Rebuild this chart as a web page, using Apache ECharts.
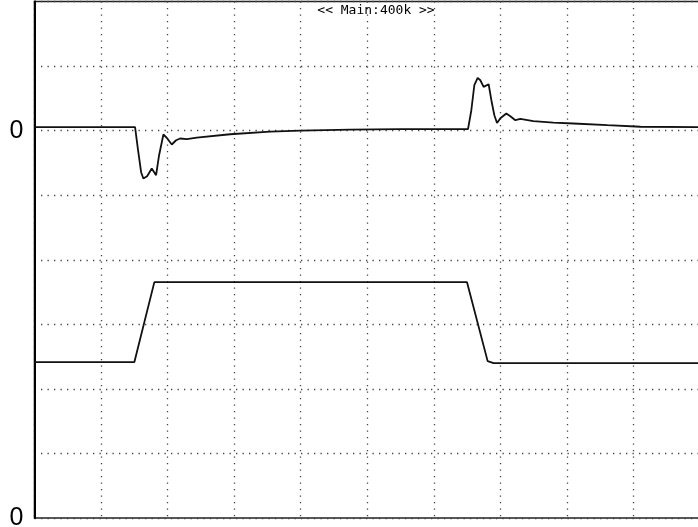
<!DOCTYPE html>
<html>
<head>
<meta charset="utf-8">
<script src="https://cdn.jsdelivr.net/npm/echarts@6/dist/echarts.min.js"></script>
<style>
  html, body { margin: 0; padding: 0; background: #fff; }
  #chart { width: 698px; height: 527px; }
</style>
</head>
<body>
<div id="chart"></div>
<script>
// Values in screen divisions (x: 0-10, y: 0-8)
const upperTrace = [
  [0, 6.053], [1.511, 6.053], [1.556, 5.697], [1.602, 5.356], [1.636, 5.258],
  [1.692, 5.294], [1.762, 5.413], [1.827, 5.310], [1.872, 5.619], [1.937, 5.940],
  [1.992, 5.882], [2.063, 5.785], [2.128, 5.851], [2.188, 5.878], [2.289, 5.867],
  [2.439, 5.893], [2.94, 5.944], [3.541, 5.983], [3.992, 5.999], [4.744, 6.015],
  [5.496, 6.022], [6.098, 6.022], [6.514, 6.022], [6.564, 6.316], [6.609, 6.703],
  [6.659, 6.816], [6.699, 6.780], [6.749, 6.677], [6.824, 6.718], [6.865, 6.471],
  [6.910, 6.238], [6.950, 6.119], [7.0, 6.192], [7.09, 6.265], [7.15, 6.223],
  [7.226, 6.161], [7.301, 6.181], [7.496, 6.146], [7.797, 6.125], [8.098, 6.110],
  [8.609, 6.084], [9.105, 6.060], [10, 6.053]
];
const lowerTrace = [
  [0, 2.415], [1.501, 2.415], [1.801, 3.653], [6.499, 3.653],
  [6.809, 2.430], [6.899, 2.399], [10, 2.399]
];
const yZeroLabels = { 0: '0', 6: '0' };
const titleText = '<< Main:400k >>';

const chart = echarts.init(document.getElementById('chart'), null, { renderer: 'canvas' });
const gridDots = { color: '#444', width: 1.3, type: [1.3, 5.2] };
chart.setOption({
  animation: false,
  backgroundColor: '#fff',
  title: {
    text: titleText,
    left: 371, top: -1,
    textAlign: 'center',
    textStyle: { fontFamily: 'DejaVu Sans Mono', fontSize: 13, fontWeight: 'normal', color: '#000' }
  },
  grid: {
    left: 34.5, top: 1.5, right: -2, bottom: 9,
    outerBoundsMode: 'none',
    containLabel: false,
    show: true, borderColor: '#222', borderWidth: 1.6, backgroundColor: 'transparent'
  },
  xAxis: {
    type: 'value', min: 0, max: 10, interval: 1,
    axisLine: { show: false },
    axisTick: { show: false },
    axisLabel: { show: false },
    splitLine: { show: true, lineStyle: gridDots }
  },
  yAxis: {
    type: 'value', min: 0, max: 8, interval: 1,
    axisLine: { show: true, onZero: false, lineStyle: { color: '#000', width: 2 } },
    axisTick: { show: false },
    axisLabel: {
      show: true, margin: 11, color: '#000', fontSize: 25,
      fontFamily: 'Liberation Sans, Arial, sans-serif',
      formatter: v => yZeroLabels[v] || ''
    },
    splitLine: { show: true, lineStyle: gridDots }
  },
  series: [
    {
      type: 'line', data: upperTrace, showSymbol: false, symbol: 'none',
      lineStyle: { color: '#111', width: 1.8 }, z: 5
    },
    {
      type: 'line', data: lowerTrace, showSymbol: false, symbol: 'none',
      lineStyle: { color: '#111', width: 1.8 }, z: 5
    }
  ]
});
</script>
</body>
</html>
